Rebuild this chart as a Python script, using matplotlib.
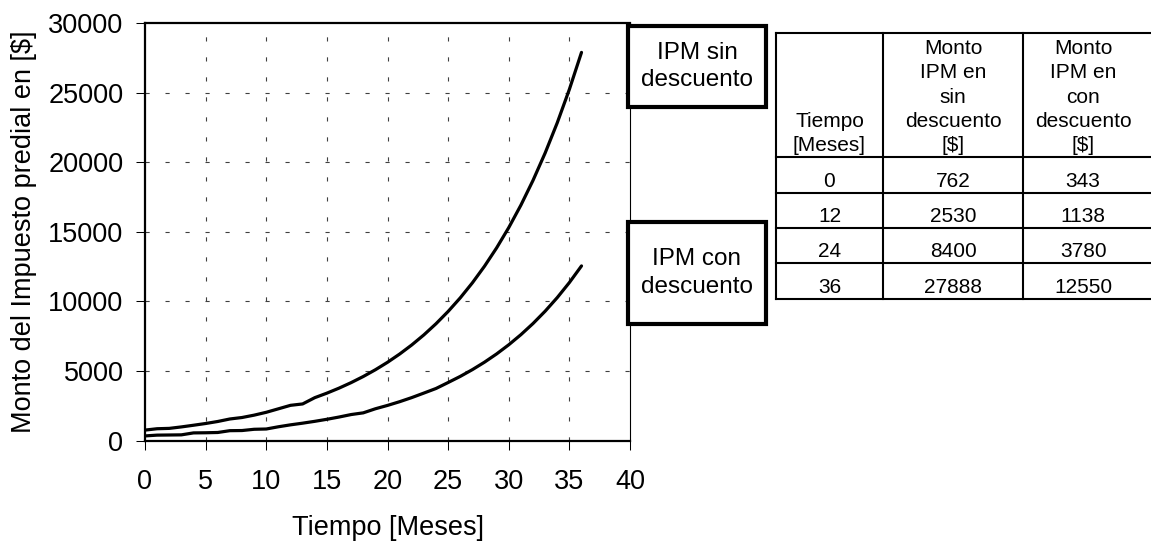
import matplotlib
matplotlib.use("Agg")
import matplotlib.pyplot as plt
from matplotlib.patches import Rectangle
from matplotlib.lines import Line2D

plt.rcParams['font.family'] = ['Liberation Sans', 'DejaVu Sans']
plt.rcParams['lines.scale_dashes'] = False

# ---------------- data ----------------
meses = list(range(0, 37))
ipm_sin = [762, 860, 885, 990, 1110, 1235, 1380, 1560, 1665, 1835, 2040,
           2290, 2540, 2640, 3090, 3415, 3774, 4171, 4610, 5095, 5630,
           6223, 6877, 7600, 8400, 9283, 10259, 11338, 12531, 13849, 15305,
           16915, 18694, 20660, 22833, 25234, 27888]
ipm_con = [343, 400, 410, 420, 560, 570, 590, 720, 730, 820, 840,
           1000, 1139, 1259, 1391, 1537, 1699, 1878, 2000, 2293, 2534,
           2801, 3096, 3421, 3750, 4179, 4618, 5104, 5640, 6233, 6889,
           7614, 8415, 9300, 10278, 11359, 12553]

xticks = [0, 5, 10, 15, 20, 25, 30, 35, 40]
yticks = [0, 5000, 10000, 15000, 20000, 25000, 30000]

legend_labels = ["IPM sin\ndescuento", "IPM con\ndescuento"]

tab_header = [["Tiempo", "[Meses]"],
              ["Monto", "IPM en", "sin", "descuento", "[$]"],
              ["Monto", "IPM en", "con", "descuento", "[$]"]]
tab_tiempo = ["0", "12", "24", "36"]
tab_sin = ["762", "2530", "8400", "27888"]
tab_con = ["343", "1138", "3780", "12550"]

# ---------------- figure ----------------
W, H = 1151, 541
fig = plt.figure(figsize=(W / 100, H / 100), dpi=100)


def fx(x):
    return x / W


def fy(y):
    return 1 - y / H


ax = fig.add_axes([fx(145), fy(440.7), fx(630) - fx(145), fy(23) - fy(440.7)])
ax.plot(meses, ipm_sin, color='black', lw=2.3, solid_capstyle='round', zorder=3)
ax.plot(meses, ipm_con, color='black', lw=2.3, solid_capstyle='round', zorder=3)
ax.set_xlim(0, 40)
ax.set_ylim(0, 30000)
ax.set_xticks(xticks)
ax.set_yticks(yticks)
ax.set_xticklabels([str(v) for v in xticks])
ax.set_yticklabels([str(v) for v in yticks])
ax.tick_params(axis='both', direction='out', length=6.5, width=0.75,
               labelsize=19.5, color='black')
ax.tick_params(axis='x', pad=14)
ax.tick_params(axis='y', pad=9)

grid_kw = dict(color='#404040', lw=0.8, ls=(0, (3, 11.4)), zorder=1)
for v in xticks[1:-1]:
    ax.axvline(v, **grid_kw)
for v in yticks[1:-1]:
    ax.axhline(v, **grid_kw)

for s in ['left', 'bottom', 'top']:
    ax.spines[s].set_linewidth(1.6)
ax.spines['right'].set_linewidth(0.8)

ax.set_xlabel("Tiempo [Meses]", fontsize=19.5, labelpad=14)
ax.set_ylabel("Monto del Impuesto predial en [$]", fontsize=19.5, labelpad=8)

# ---------------- legend boxes ----------------
boxes = [(628, 26, 766, 107), (628, 222.5, 766, 324)]
for (x0, y0, x1, y1), lab in zip(boxes, legend_labels):
    r = Rectangle((fx(x0), fy(y1)), fx(x1) - fx(x0), fy(y0) - fy(y1),
                  transform=fig.transFigure, facecolor='white',
                  edgecolor='black', lw=3.0, zorder=5)
    fig.patches.append(r)
    fig.text(fx((x0 + x1) / 2), fy((y0 + y1) / 2), lab, ha='center',
             va='center', fontsize=17.5, linespacing=1.35, zorder=6)

# ---------------- table ----------------
tx = [775.7, 883.3, 1023.3]
t_right = 1151
ty = [33.3, 156.7, 192.7, 228.3, 263.3, 299]
lw_t = 1.5
for y in ty:
    fig.add_artist(Line2D([fx(tx[0]), fx(t_right)], [fy(y), fy(y)],
                          color='black', lw=lw_t, transform=fig.transFigure))
for x in tx:
    fig.add_artist(Line2D([fx(x), fx(x)], [fy(ty[0]), fy(ty[-1])],
                          color='black', lw=lw_t, transform=fig.transFigure))

col_centers = [(tx[0] + tx[1]) / 2, (tx[1] + tx[2]) / 2, (tx[2] + 1143) / 2]
line_h = 24.3
fs_t = 15
for c, lines in zip(col_centers, tab_header):
    n = len(lines)
    for i, ln in enumerate(lines):
        base = ty[1] - 5.5 - (n - 1 - i) * line_h
        fig.text(fx(c), fy(base), ln, ha='center', va='baseline', fontsize=fs_t)

for r in range(4):
    base = ty[r + 2] - 6
    for c, col in zip(col_centers, [tab_tiempo, tab_sin, tab_con]):
        fig.text(fx(c), fy(base), col[r], ha='center', va='baseline', fontsize=fs_t)

fig.savefig("out.png", dpi=100)
